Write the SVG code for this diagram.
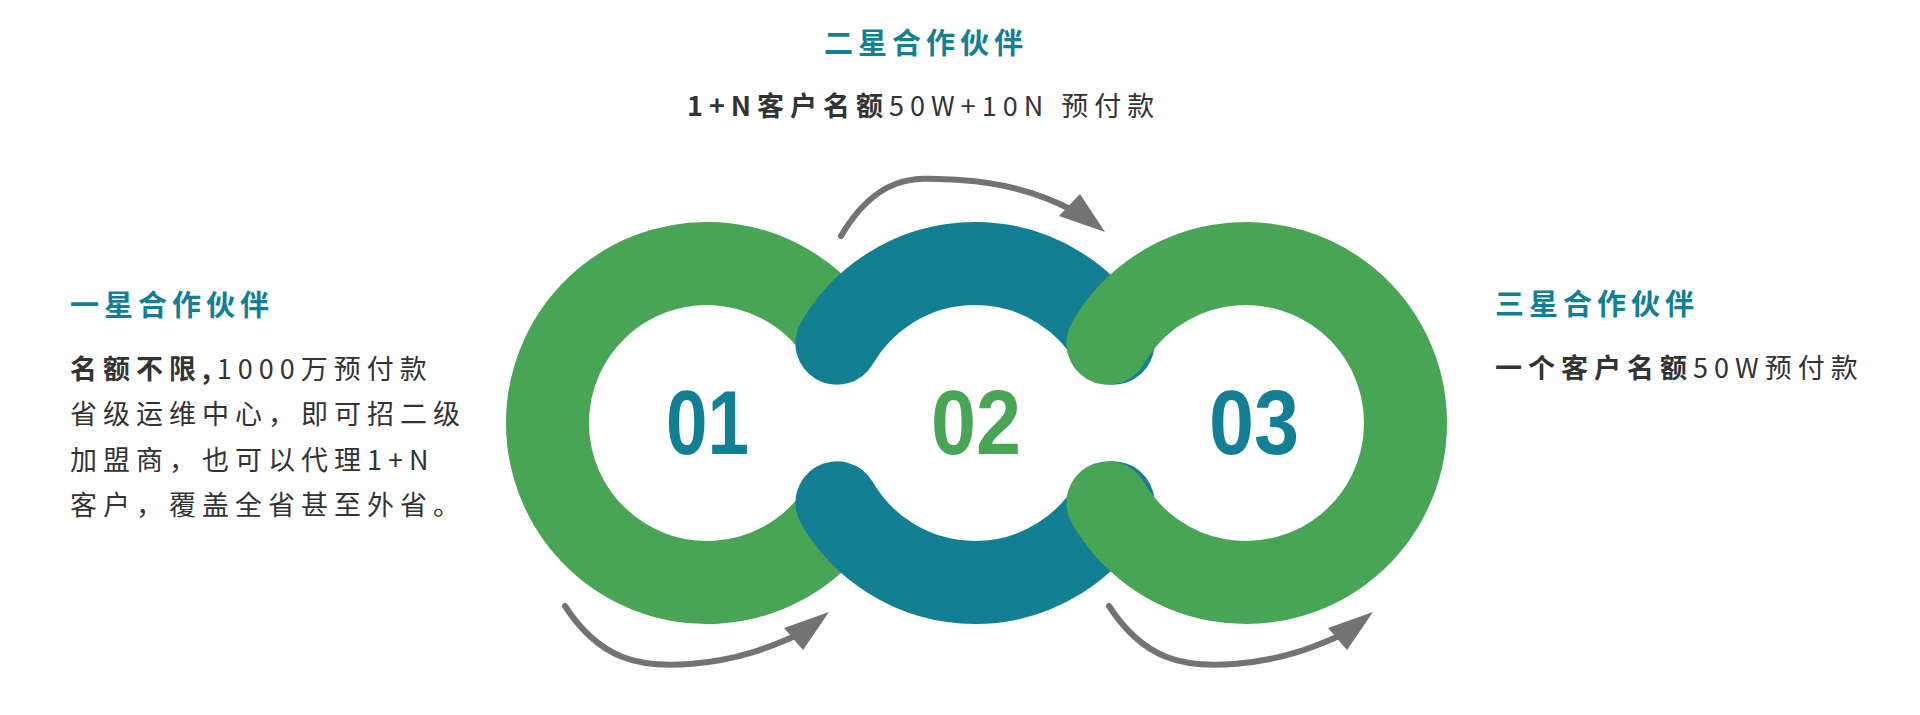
<svg xmlns="http://www.w3.org/2000/svg" width="1920" height="715" viewBox="0 0 1920 715">
<style>
.t{font-family:"Noto Sans CJK SC","Liberation Sans",sans-serif;font-weight:bold;fill:#137F93;font-size:29px;letter-spacing:5px}
.b{font-family:"Noto Sans CJK SC","Liberation Sans",sans-serif;fill:#333;font-size:27px;letter-spacing:6px}
.bb{font-weight:bold}
.n{font-family:"Liberation Sans",sans-serif;font-weight:bold;font-size:90px}
.ring{fill:none;stroke-width:83}
.arr{fill:none;stroke:#737373;stroke-width:6;stroke-linecap:round}
.head{fill:#737373}
</style>
<rect width="1920" height="715" fill="#fff"/>
<g id="ring1"><path class="ring" stroke="#48A555" d="M 829.2 320.5 A 159.5 159.5 0 1 0 829.2 525.5"/></g>
<g id="ring2">
<path class="ring" stroke="#137F93" stroke-linecap="round" d="M 836.9 343.2 A 159.5 159.5 0 0 1 1113.1 343.2"/>
<path class="ring" stroke="#137F93" stroke-linecap="round" d="M 836.9 502.8 A 159.5 159.5 0 0 0 1113.1 502.8"/>
</g>
<g id="ring3"><path class="ring" stroke="#48A555" stroke-linecap="round" d="M 1107.9 343.2 A 159.5 159.5 0 1 1 1107.9 502.8"/></g>
<g id="numbers">
<text class="n" x="666" y="454" fill="#137F93" textLength="83" lengthAdjust="spacingAndGlyphs">01</text>
<text class="n" x="931" y="454" fill="#48A555" textLength="90" lengthAdjust="spacingAndGlyphs">02</text>
<text class="n" x="1209" y="454" fill="#137F93" textLength="90" lengthAdjust="spacingAndGlyphs">03</text>
</g>
<g id="connectors">
<path class="arr" d="M 841 236 C 880 170 920 178 960 180 C 1010 183 1045 196 1072 210"/>
<polygon class="head" points="1105,232 1059,216 1080,194"/>
<path class="arr" d="M 565 606 C 600 660 640 668 690 664 C 740 660 772 646 795 636"/>
<polygon class="head" points="829,612 784,628 803,650"/>
<path class="arr" d="M 1109 606 C 1144 660 1184 668 1234 664 C 1284 660 1316 646 1339 636"/>
<polygon class="head" points="1373,612 1328,628 1347,650"/>
</g>
<g id="star2">
<text class="t" x="926" y="54" text-anchor="middle">二星合作伙伴</text>
<text class="b" x="687" y="116" letter-spacing="5"><tspan class="bb">1+N客户名额</tspan>50W+10N 预付款</text>
</g>
<g id="star1">
<text class="t" x="70" y="316">一星合作伙伴</text>
<text class="b" x="70" y="379"><tspan class="bb">名额不限,</tspan>1000万预付款</text>
<text class="b" x="70" y="424">省级运维中心，即可招二级</text>
<text class="b" x="70" y="470">加盟商，也可以代理1+N</text>
<text class="b" x="70" y="515">客户，覆盖全省甚至外省。</text>
</g>
<g id="star3">
<text class="t" x="1495" y="315">三星合作伙伴</text>
<text class="b" x="1495" y="378"><tspan class="bb">一个客户名额</tspan>50W预付款</text>
</g>
</svg>
